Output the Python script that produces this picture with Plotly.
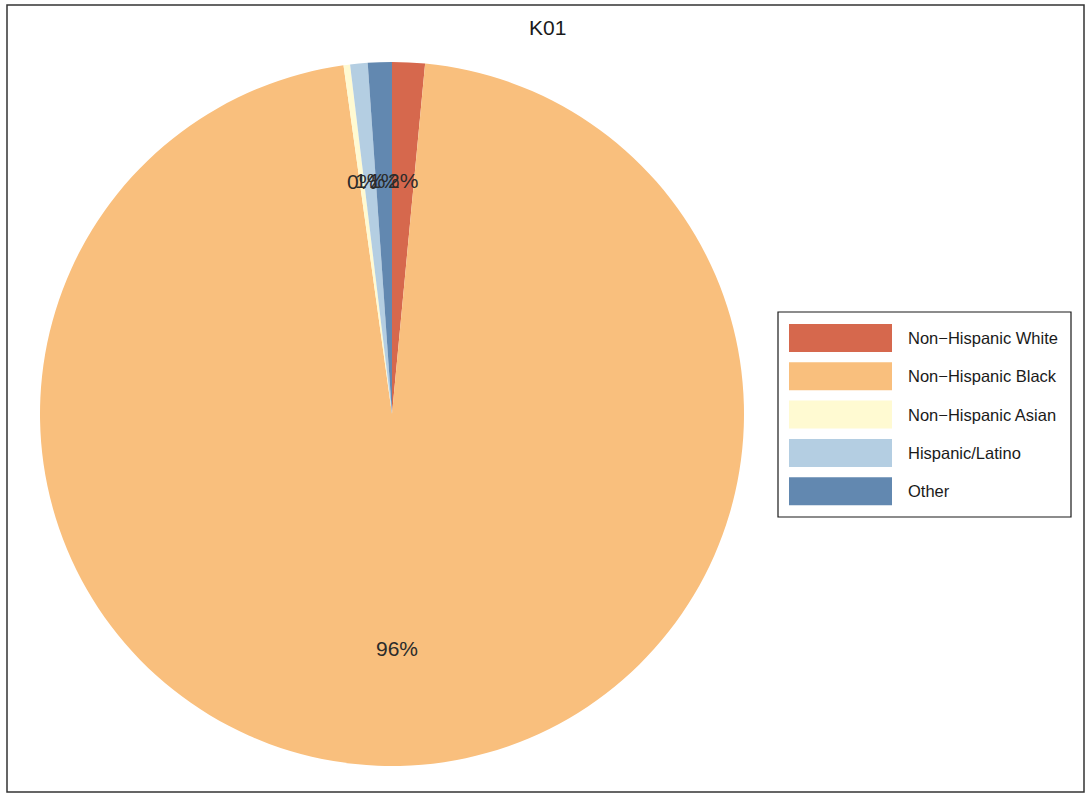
import math
import plotly.graph_objects as go

title = "K01"
categories = ["Non\u2212Hispanic White", "Non\u2212Hispanic Black", "Non\u2212Hispanic Asian",
              "Hispanic/Latino", "Other"]
values = [1.5, 96.3, 0.3, 0.8, 1.1]
colors = ["#D6684D", "#F9BF7D", "#FFFAD2", "#B4CEE2", "#6288B0"]

W, H = 1086, 793
cx, cy, R = 392, 414, 352  # pie centre / radius in px (from top-left)

fig = go.Figure()
fig.add_trace(go.Pie(
    labels=categories, values=values, sort=False, direction="clockwise", rotation=0,
    marker=dict(colors=colors, line=dict(width=0)), textinfo="none", showlegend=False,
    domain=dict(x=[(cx - R) / W, (cx + R) / W], y=[(H - cy - R) / H, (H - cy + R) / H]),
))

annotations = []
total = sum(values)
cum = 0.0
for v in values:
    mid = (cum + v / 2) / total * 2 * math.pi
    cum += v
    px = cx + 0.665 * R * math.sin(mid)
    py = cy - 0.665 * R * math.cos(mid)
    annotations.append(dict(x=px / W, y=1 - py / H, xref="paper", yref="paper",
                            text=f"{round(v / total * 100):.0f}%", showarrow=False,
                            font=dict(size=21, color="#2b2b2b", family="Liberation Sans"),
                            xanchor="center", yanchor="middle"))

annotations.append(dict(x=547 / W, y=1 - 28 / H, xref="paper", yref="paper", text=title,
                        showarrow=False, font=dict(size=21, color="#1a1a1a", family="Liberation Sans"),
                        xanchor="center", yanchor="middle"))

shapes = [dict(type="rect", xref="paper", yref="paper", x0=7 / W, x1=1084 / W,
               y0=1 - 792 / H, y1=1 - 5 / H, line=dict(color="#333333", width=1.5))]

# custom legend
lx0, lx1, ly0, ly1 = 778, 1071, 312, 517
shapes.append(dict(type="rect", xref="paper", yref="paper", x0=lx0 / W, x1=lx1 / W,
                   y0=1 - ly1 / H, y1=1 - ly0 / H, line=dict(color="#1a1a1a", width=1.2),
                   fillcolor="white"))
for i, (cat, col) in enumerate(zip(categories, colors)):
    yc = 338 + i * 38.3
    shapes.append(dict(type="rect", xref="paper", yref="paper", x0=789 / W, x1=892 / W,
                       y0=1 - (yc + 14) / H, y1=1 - (yc - 14) / H,
                       line=dict(width=0), fillcolor=col))
    annotations.append(dict(x=906 / W, y=1 - yc / H, xref="paper", yref="paper", text=cat,
                            showarrow=False, xanchor="left", yanchor="middle",
                            font=dict(size=16.5, color="#1a1a1a", family="Liberation Sans")))

fig.update_layout(width=W, height=H, margin=dict(l=0, r=0, t=0, b=0),
                  paper_bgcolor="white", plot_bgcolor="white",
                  annotations=annotations, shapes=shapes, showlegend=False)
fig.write_html("out.html")
